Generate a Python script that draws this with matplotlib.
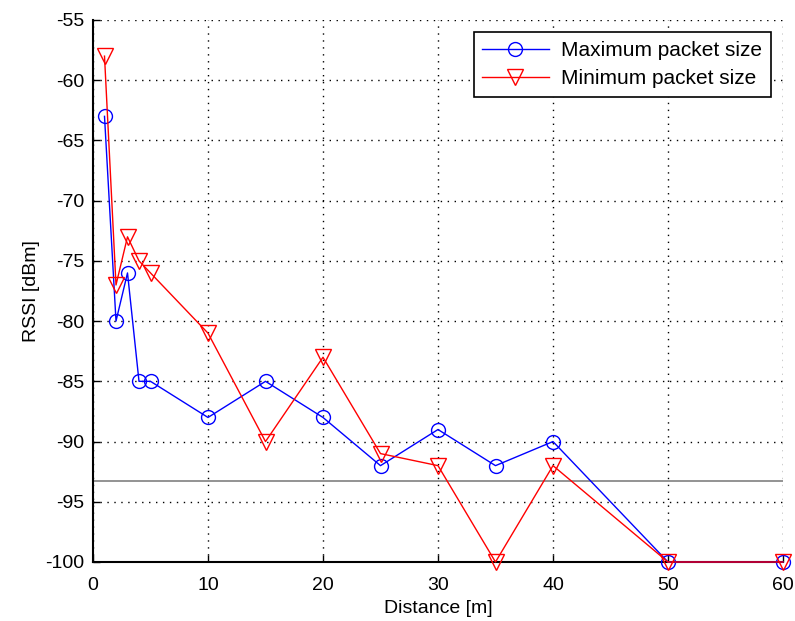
import matplotlib
matplotlib.use("Agg")
import matplotlib.pyplot as plt

# RSSI measured over distance for the two packet sizes
distance = [1, 2, 3, 4, 5, 10, 15, 20, 25, 30, 35, 40, 50, 60]
rssi_max_packet = [-63, -80, -76, -85, -85, -88, -85, -88, -92, -89, -92, -90, -100, -100]
rssi_min_packet = [-58, -77, -73, -75, -76, -81, -90, -83, -91, -92, -100, -92, -100, -100]
sensitivity = -93.3

x_ticks = [0, 10, 20, 30, 40, 50, 60]
y_ticks = [-100, -95, -90, -85, -80, -75, -70, -65, -60, -55]

plt.rcParams["font.family"] = ["Liberation Sans", "DejaVu Sans"]
plt.rcParams["axes.unicode_minus"] = False

fig = plt.figure(figsize=(7.95, 6.21), dpi=100)
ax = fig.add_axes([93 / 795, 1 - 562 / 621, 690 / 795, 542 / 621])

ax.plot([0, 60], [sensitivity, sensitivity], color="#808080", lw=1.2, zorder=2)
ax.plot(distance, rssi_max_packet, color="blue", lw=1, marker="o", ms=10,
        mfc="none", mec="blue", label="Maximum packet size", zorder=3,
        clip_on=False)
ax.plot(distance, rssi_min_packet, color="red", lw=1, marker="v", ms=12,
        mfc="none", mec="red", label="Minimum packet size", zorder=3,
        clip_on=False)

ax.set_xlim(0, 60)
ax.set_ylim(-100, -55)
ax.set_xticks(x_ticks)
ax.set_yticks(y_ticks)
ax.tick_params(labelsize=14, direction="in", length=5, width=1, pad=6)
ax.tick_params(axis="x", pad=11)
ax.grid(True, color="black", linestyle=(0, (1, 4)), linewidth=1)

ax.spines["top"].set_visible(False)
ax.spines["right"].set_visible(False)
ax.spines["left"].set_linewidth(1.5)
ax.spines["bottom"].set_linewidth(1.5)

ax.set_xlabel("Distance [m]", fontsize=14, labelpad=4)
ax.set_ylabel("RSSI [dBm]", fontsize=14)

leg = ax.legend(loc="upper right", fontsize=15, fancybox=False, framealpha=1,
                edgecolor="black", handlelength=3.2, labelspacing=0.45,
                borderaxespad=0.6, handletextpad=0.6)
leg.get_frame().set_linewidth(1.2)

fig.savefig("out.png", dpi=100)
